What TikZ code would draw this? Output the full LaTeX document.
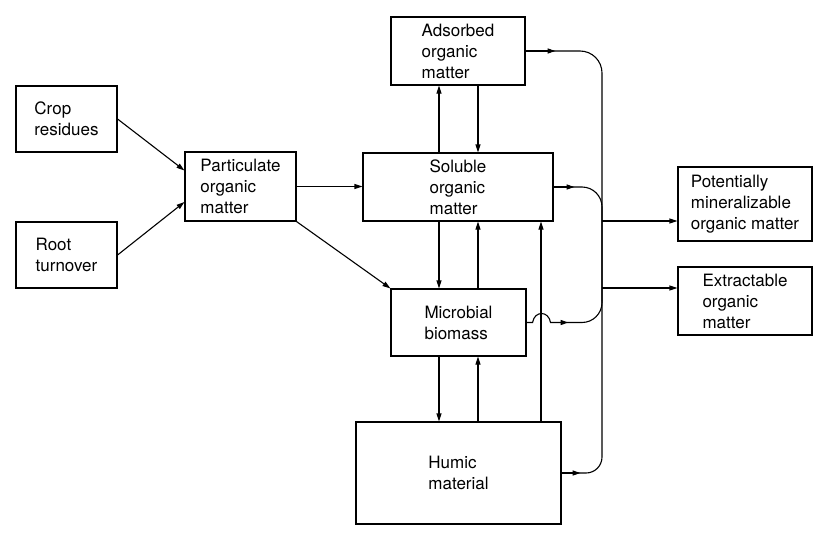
\documentclass[tikz,border=0pt]{standalone}
\usepackage{fontspec}
\setmainfont{TeX Gyre Heros}
\usetikzlibrary{arrows.meta, positioning, calc}

\begin{document}
\begin{tikzpicture}[x=1pt, y=-1pt, line width=1.1pt,
    pool/.style={draw, rectangle, align=left, inner sep=0pt, font=\fontsize{17}{21}\selectfont},
    flow/.style={-{Triangle[length=8pt, width=5pt]}}]
    \useasboundingbox (0,0) rectangle (835,535);
    % inputs
    \node[pool, minimum width=101pt, minimum height=66pt] (crop) at (66.5,119) {Crop\\residues};
    \node[pool, minimum width=101pt, minimum height=66pt] (root) at (66.5,255) {Root\\turnover};
    \node[pool, minimum width=111pt, minimum height=69pt] (partic) at (240.5,186.5) {Particulate\\organic\\matter};
    % pools
    \node[pool, minimum width=134pt, minimum height=68pt] (adsorb) at (458,51) {Adsorbed\\organic\\matter};
    \node[pool, minimum width=190pt, minimum height=68pt] (soluble) at (458,187) {Soluble\\organic\\matter};
    \node[pool, minimum width=135pt, minimum height=67pt] (microb) at (458.5,322.5) {Microbial\\biomass};
    \node[pool, minimum width=205pt, minimum height=102pt] (humic) at (458.5,473) {Humic\\material};
    % fractions
    \node[pool, minimum width=134pt, minimum height=74pt] (potent) at (745,204) {Potentially\\mineralizable\\organic matter};
    \node[pool, minimum width=134pt, minimum height=68pt] (extract) at (745,301) {Extractable\\organic\\matter};

    \coordinate (busmid) at (602,300);
    \coordinate (potentin) at ([yshift=-17pt]potent.west);
    \coordinate (extractin) at ([yshift=13pt]extract.west);

    \draw[flow] (crop.east) -- ([yshift=16pt]partic.west);
    \draw[flow] (root.east) -- ([yshift=-15.5pt]partic.west);
    \draw[flow] (partic.east) -- (partic.east -| soluble.west);
    \draw[flow] (partic.south east) -- (microb.north west);

    % exchanges between pools
    \draw[flow] ([xshift=-19pt]soluble.north) -- ([xshift=-19pt]adsorb.south);
    \draw[flow] ([xshift=20pt]adsorb.south) -- ([xshift=20pt]soluble.north);
    \draw[flow] ([xshift=-19pt]soluble.south) -- ([xshift=-19.5pt]microb.north);
    \draw[flow] ([xshift=19.5pt]microb.north) -- ([xshift=20pt]soluble.south);
    \draw[flow] ([xshift=-19.5pt]microb.south) -- ([xshift=-19.5pt]humic.north);
    \draw[flow] ([xshift=19.5pt]humic.north) -- ([xshift=19.5pt]microb.south);
    \draw[flow] ([xshift=82.5pt]humic.north) -- ([xshift=83pt]soluble.south);

    % collector line
    \draw[flow] (adsorb.east) -- ++(30,0);
    \draw[rounded corners=22pt] (adsorb.east) -| (busmid);
    \draw[flow] (soluble.east) -- ++(21,0);
    \draw[rounded corners=20pt] (soluble.east) -| (busmid);
    \draw[flow] (microb.east) -- ++(6,0) .. controls +(2,-12) and +(-2,-12) .. ++(18,0) -- ++(18,0);
    \draw[rounded corners=20pt] ([xshift=40pt]microb.east) -| (busmid);
    \draw[flow] (humic.east) -- ++(19,0);
    \draw[rounded corners=16pt] (humic.east) -| (busmid);

    \draw[flow] (busmid |- potentin) -- (potentin);
    \draw[flow] (busmid |- extractin) -- (extractin);
\end{tikzpicture}
\end{document}
